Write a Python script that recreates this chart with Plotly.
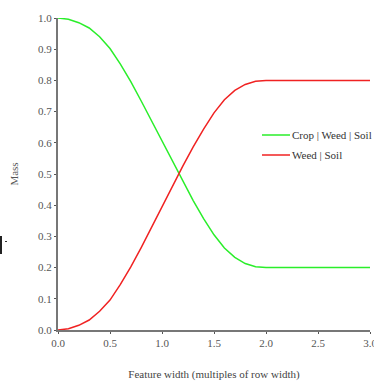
import plotly.graph_objects as go

feature_width = [0.0, 0.1, 0.2, 0.3, 0.4, 0.5, 0.6, 0.7, 0.8, 0.9, 1.0,
                 1.1, 1.2, 1.3, 1.4, 1.5, 1.6, 1.7, 1.8, 1.9, 2.0, 2.5, 3.0]
crop_weed_soil = [1.000, 0.996, 0.985, 0.968, 0.940, 0.902, 0.852, 0.796, 0.734, 0.670, 0.607,
                  0.540, 0.476, 0.415, 0.357, 0.305, 0.263, 0.233, 0.213, 0.203, 0.200, 0.200, 0.200]
weed_soil = [0.000, 0.004, 0.015, 0.032, 0.060, 0.096, 0.146, 0.202, 0.264, 0.330, 0.393,
             0.460, 0.525, 0.587, 0.644, 0.696, 0.738, 0.768, 0.787, 0.797, 0.800, 0.800, 0.800]
series_names = ["Crop | Weed | Soil", "Weed | Soil"]
series_colors = ["#2aee2a", "#f02222"]
x_ticks = [0.0, 0.5, 1.0, 1.5, 2.0, 2.5, 3.0]
y_ticks = [0.0, 0.1, 0.2, 0.3, 0.4, 0.5, 0.6, 0.7, 0.8, 0.9, 1.0]

FONT = "Liberation Serif, Times New Roman, serif"
PW, PL, PB = 312.0, 58.0, 330.0  # plot width/left/bottom in px


def px_x(p):
    return (p - PL) / PW


def px_y(p):
    return (PB - p) / PW


fig = go.Figure()
for ys, name, col in zip([crop_weed_soil, weed_soil], series_names, series_colors):
    fig.add_trace(go.Scatter(x=feature_width, y=ys, mode="lines", name=name,
                             line=dict(color=col, width=1.5), showlegend=False))

axis_common = dict(showgrid=False, zeroline=False, showline=True, linecolor="#777777",
                   linewidth=2, ticks="outside", ticklen=2, tickwidth=1, tickcolor="#555555",
                   automargin=False, ticklabeloverflow="allow",
                   tickfont=dict(family=FONT, size=11, color="#555555"))

fig.update_layout(
    width=374, height=381,
    margin=dict(l=58, r=4, t=18, b=51),
    paper_bgcolor="white", plot_bgcolor="white",
    font=dict(family=FONT, color="#444444"),
    xaxis=dict(range=[0, 3], tickvals=x_ticks, tickformat=".1f",
               title=dict(text="Feature width (multiples of row width)",
                          font=dict(family=FONT, size=11, color="#444444"), standoff=31),
               **axis_common),
    yaxis=dict(range=[0, 1], tickvals=y_ticks, tickformat=".1f",
               title=dict(text="Mass", font=dict(family=FONT, size=11, color="#555555"),
                          standoff=17),
               **axis_common),
    showlegend=False,
)

# manual legend (line samples + text)
for i, (name, col) in enumerate(zip(series_names, series_colors)):
    yy = 135 + 20 * i
    fig.add_shape(type="line", xref="paper", yref="paper",
                  x0=px_x(262), x1=px_x(290), y0=px_y(yy), y1=px_y(yy),
                  line=dict(color=col, width=1.5))
    fig.add_annotation(xref="paper", yref="paper", x=px_x(290), y=px_y(yy),
                       xanchor="left", yanchor="middle", showarrow=False,
                       text=name, font=dict(family=FONT, size=11, color="#333333"))

# small artifact marks at left edge
fig.add_shape(type="rect", xref="paper", yref="paper",
              x0=px_x(0), x1=px_x(2), y0=px_y(254), y1=px_y(236),
              fillcolor="#222222", line=dict(width=0))
fig.add_shape(type="line", xref="paper", yref="paper",
              x0=px_x(5), x1=px_x(7), y0=px_y(241.5), y1=px_y(241.5),
              line=dict(color="#333333", width=1))

fig.write_html("out.html", config={"displayModeBar": False},
               post_script="document.body.style.margin='0';document.body.style.overflow='hidden';")
